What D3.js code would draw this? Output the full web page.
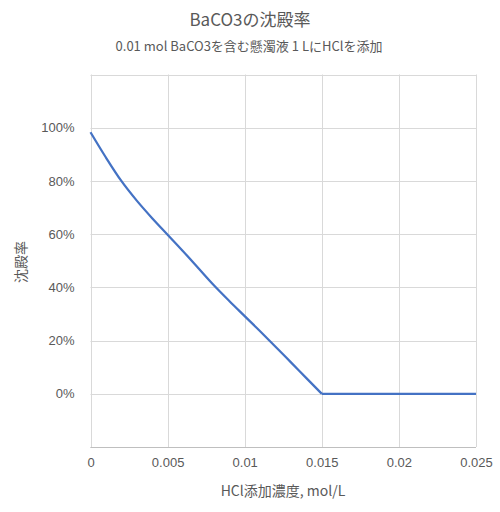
<!DOCTYPE html>
<meta charset="utf-8">
<style>
body { margin: 0; background: #fff; }
svg { display: block; font-family: "Noto Sans CJK JP", "Noto Sans", sans-serif; }
.grid line { stroke: #d9d9d9; stroke-width: 1px; }
.tick text { fill: #595959; font-size: 13px; }
.title { fill: #595959; font-size: 17px; }
.subtitle { fill: #595959; font-size: 13px; }
.axis-label { fill: #595959; font-size: 14px; }
.curve { fill: none; stroke: #4472c4; stroke-width: 2.25px; stroke-linejoin: round; }
</style>

<svg id="chart" width="500" height="512"></svg>

<script src="https://cdn.jsdelivr.net/npm/d3@7"></script>
<script>
    // HCl concentration (mol/L) and precipitation fraction
    var hcl = [0, 0.001, 0.002, 0.003, 0.004, 0.005, 0.006, 0.007, 0.008,
               0.009, 0.010, 0.011, 0.012, 0.013, 0.014, 0.015, 0.020, 0.025];
    var ratio = [0.983, 0.888, 0.800, 0.726, 0.660, 0.598, 0.536, 0.472, 0.408,
                 0.349, 0.292, 0.235, 0.177, 0.118, 0.059, 0.0, 0.0, 0.0];
    var xTicks = [0, 0.005, 0.01, 0.015, 0.02, 0.025];
    var xTickLabels = ["0", "0.005", "0.01", "0.015", "0.02", "0.025"];
    var yGrid = [-0.2, 0, 0.2, 0.4, 0.6, 0.8, 1.0, 1.2];
    var yTicks = [0, 0.2, 0.4, 0.6, 0.8, 1.0];

    var data = hcl.map(function(c, i) { return [c, ratio[i]]; });
    // smooth part (dissolving) and flat part after full dissolution
    var dissolving = data.filter(function(d) { return d[0] <= 0.015; });
    var flat = data.filter(function(d) { return d[0] >= 0.015; });

    var svg = d3.select("#chart");

    var x = d3.scaleLinear()
              .domain([0, 0.025])
              .range([90.5, 476]);
    var y = d3.scaleLinear()
              .domain([-0.2, 1.2])
              .range([447, 74.5]);

    // gridlines
    var grid = svg.append("g").attr("class", "grid");
    grid.selectAll("line.h")
        .data(yGrid)
        .enter().append("line")
        .attr("class", "h")
        .attr("x1", x(0))
        .attr("x2", x(0.025))
        .attr("y1", function(d) { return Math.round(y(d)) + 0.5; })
        .attr("y2", function(d) { return Math.round(y(d)) + 0.5; });
    grid.selectAll("line.v")
        .data(xTicks)
        .enter().append("line")
        .attr("class", "v")
        .attr("y1", y(-0.2))
        .attr("y2", y(1.2))
        .attr("x1", function(d) { return Math.round(x(d)) + 0.5; })
        .attr("x2", function(d) { return Math.round(x(d)) + 0.5; });

    // bottom axis line
    svg.append("line")
       .attr("x1", x(0)).attr("x2", x(0.025))
       .attr("y1", Math.round(y(-0.2)) + 0.5).attr("y2", Math.round(y(-0.2)) + 0.5)
       .attr("stroke", "#bfbfbf");

    var xAxis = d3.axisBottom(x)
                  .tickValues(xTicks)
                  .tickFormat(function(d, i) { return xTickLabels[i]; })
                  .tickSize(0)
                  .tickPadding(11);
    svg.append("g")
       .attr("transform", "translate(0," + y(-0.2) + ")")
       .call(xAxis)
       .call(function(g) { g.select(".domain").remove(); });

    var yAxis = d3.axisLeft(y)
                  .tickValues(yTicks)
                  .tickFormat(d3.format(".0%"))
                  .tickSize(0)
                  .tickPadding(16);
    svg.append("g")
       .attr("transform", "translate(" + x(0) + ",0)")
       .call(yAxis)
       .call(function(g) { g.select(".domain").remove(); });

    // curve
    var smooth = d3.line()
                   .x(function(d) { return x(d[0]); })
                   .y(function(d) { return y(d[1]); })
                   .curve(d3.curveMonotoneX);
    var straight = d3.line()
                     .x(function(d) { return x(d[0]); })
                     .y(function(d) { return y(d[1]); });
    svg.append("path")
       .datum(dissolving)
       .attr("class", "curve")
       .attr("d", smooth);
    svg.append("path")
       .datum(flat)
       .attr("class", "curve")
       .attr("d", straight);

    // titles
    svg.append("text")
       .attr("class", "title")
       .attr("x", 250).attr("y", 26)
       .attr("text-anchor", "middle")
       .text("BaCO3の沈殿率");
    svg.append("text")
       .attr("class", "subtitle")
       .attr("x", 249).attr("y", 51)
       .attr("text-anchor", "middle")
       .text("0.01 mol BaCO3を含む懸濁液 1 LにHClを添加");
    svg.append("text")
       .attr("class", "axis-label")
       .attr("x", 283).attr("y", 496)
       .attr("text-anchor", "middle")
       .text("HCl添加濃度, mol/L");
    svg.append("text")
       .attr("class", "axis-label")
       .attr("transform", "translate(26,262) rotate(-90)")
       .attr("text-anchor", "middle")
       .text("沈殿率");
</script>
